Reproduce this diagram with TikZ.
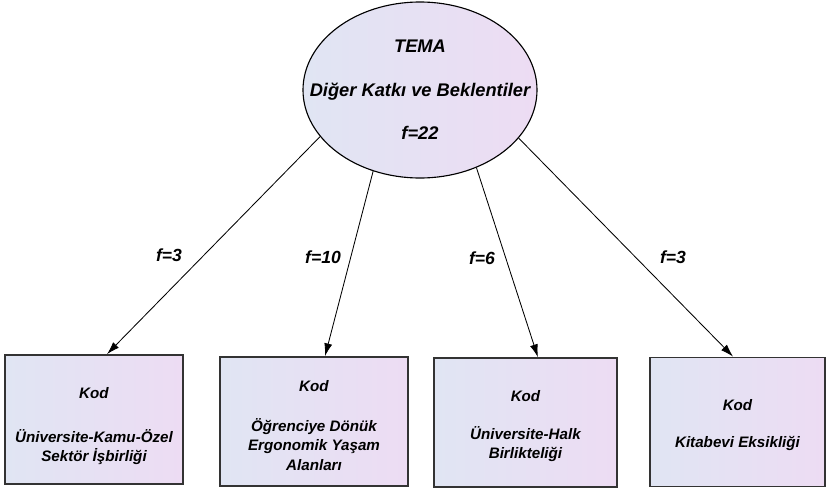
\documentclass[tikz,border=0pt]{standalone}
\usepackage{fontspec}
\setmainfont{Liberation Sans}
\usetikzlibrary{shapes.geometric,arrows.meta}
\definecolor{shL}{RGB}{224,229,243}
\definecolor{shR}{RGB}{237,220,243}
\tikzstyle{tm}=[ellipse,draw=black,line width=0.8pt,left color=shL,right color=shR,minimum width=58.5mm,minimum height=44mm,inner sep=0pt]
\tikzstyle{tmtxt}=[align=center,inner sep=0pt,font=\fontsize{13}{16}\selectfont\bfseries\itshape]
\tikzstyle{kd}=[rectangle,draw=black!80,line width=1.2pt,left color=shL,right color=shR,inner sep=0pt,minimum height=32.25mm]
\tikzstyle{kdtxt}=[align=center,inner sep=0pt,font=\fontsize{10.8}{13.8}\selectfont\bfseries\itshape]
\tikzstyle{fl}=[inner sep=0pt,font=\fontsize{12.5}{15}\selectfont\bfseries\itshape]
\tikzstyle{ok}=[-{Latex[length=3.2mm,width=2mm]},line width=0.6pt]
\begin{document}
\begin{tikzpicture}[x=0.25mm,y=-0.25mm]
\useasboundingbox (0,0) rectangle (827,488);
\node[tm] (tema) at (420,90) {};
\node[tmtxt] (temaTxt) at (tema.center) {TEMA\\[15pt]Diğer Katkı ve Beklentiler\\[15pt]f=22};
\node[kd,minimum width=44.5mm] (k1) at (94,419.5) {};
\node[kd,minimum width=47mm] (k2) at (314,421.5) {};
\node[kd,minimum width=45.75mm] (k3) at (525.5,422.5) {};
\node[kd,minimum width=43.75mm] (k4) at (737.5,422) {};
\node[kdtxt] (k1t) at ([yshift=-1.7mm]k1.center) {Kod\\[17.4pt]Üniversite-Kamu-Özel\\Sektör İşbirliği};
\node[kdtxt] (k2t) at ([yshift=-1mm]k2.center) {Kod\\[14.5pt]Öğrenciye Dönük\\Ergonomik Yaşam\\Alanları};
\node[kdtxt] (k3t) at ([yshift=-0.9mm]k3.center) {Kod\\[13pt]Üniversite-Halk\\Birlikteliği};
\node[kdtxt] (k4t) at ([yshift=-0.8mm]k4.center) {Kod\\[12.4pt]Kitabevi Eksikliği};
\draw[ok] (tema.205) -- ([xshift=3.25mm]k1.north);
\draw[ok] (tema.240) -- ([xshift=2.75mm]k2.north);
\draw[ok] (tema.306) -- ([xshift=3.1mm]k3.north);
\draw[ok] (tema.334) -- ([xshift=-1.1mm]k4.north);
\node[fl] (f1) at (169,255) {f=3};
\node[fl] (f2) at (323,257) {f=10};
\node[fl] (f3) at (482,258) {f=6};
\node[fl] (f4) at (673,257) {f=3};
\end{tikzpicture}
\end{document}
